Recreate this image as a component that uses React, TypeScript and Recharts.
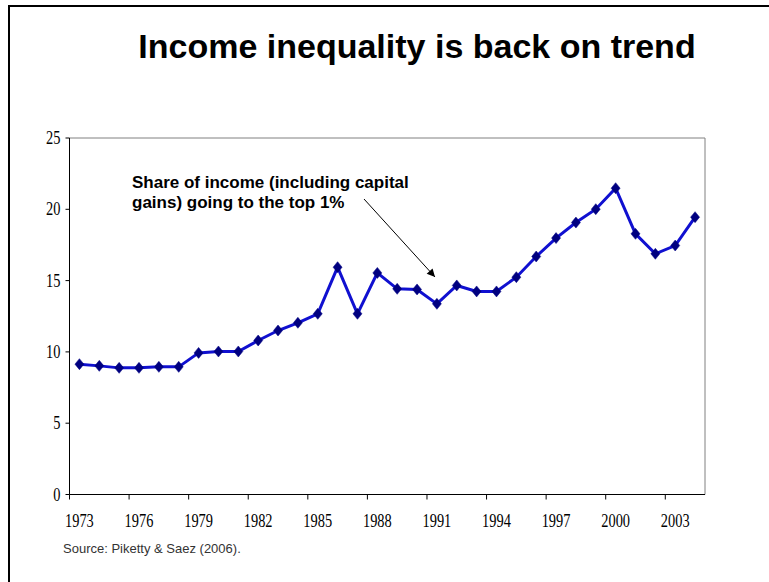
import React from 'react';
import { LineChart, Line, XAxis, YAxis, ReferenceLine } from 'recharts';

const years = [
  1973, 1974, 1975, 1976, 1977, 1978, 1979, 1980, 1981, 1982, 1983, 1984, 1985, 1986, 1987, 1988,
  1989, 1990, 1991, 1992, 1993, 1994, 1995, 1996, 1997, 1998, 1999, 2000, 2001, 2002, 2003, 2004,
];
const topShare = [
  9.14, 9.02, 8.88, 8.88, 8.95, 8.95, 9.93, 10.03, 10.03, 10.8, 11.5, 12.04, 12.67, 15.94, 12.67, 15.54,
  14.42, 14.38, 13.37, 14.66, 14.24, 14.24, 15.24, 16.69, 17.98, 19.07, 20.01, 21.48, 18.28, 16.88, 17.46, 19.45,
];
const yearLabels = [1973, 1976, 1979, 1982, 1985, 1988, 1991, 1994, 1997, 2000, 2003];
const yearBoundaries = [1972.5, 1975.5, 1978.5, 1981.5, 1984.5, 1987.5, 1990.5, 1993.5, 1996.5, 1999.5, 2002.5];
const yTicks = [0, 5, 10, 15, 20, 25];
const xDomain = [1972.5, 2004.5];
const yDomain = [0, 25];

const title = 'Income inequality is back on trend';
const noteLines = ['Share of income (including capital', 'gains) going to the top 1%'];
const source = 'Source: Piketty & Saez (2006).';

const data = years.map((y, i) => ({ year: y, share: topShare[i] }));

const SERIF = '"Liberation Serif", "Times New Roman", serif';
const SANS = '"Liberation Sans", Arial, sans-serif';

const XLabel = (props: any) => {
  const { x, y, payload } = props;
  return (
    <g transform={`translate(${x},${y})`}>
      <text transform="scale(0.8,1)" textAnchor="middle" dy={13} fontSize={18} fontFamily={SERIF} fill="#000">
        {payload.value}
      </text>
    </g>
  );
};

const EmptyTick = () => <g />;

const YLabel = (props: any) => {
  const { x, y, payload } = props;
  return (
    <g transform={`translate(${x},${y})`}>
      <text transform="scale(0.8,1)" textAnchor="end" dy={6} fontSize={18} fontFamily={SERIF} fill="#000">
        {payload.value}
      </text>
    </g>
  );
};

const Diamond = (props: any) => {
  const { cx, cy, index } = props;
  if (cx == null || cy == null) return null;
  return (
    <polygon
      key={`d-${index}`}
      points={`${cx},${cy - 5.5} ${cx + 4.5},${cy} ${cx},${cy + 5.5} ${cx - 4.5},${cy}`}
      fill="#000080"
      stroke="#000080"
      strokeWidth={0.5}
    />
  );
};

export default function App() {
  return (
    <div style={{ position: 'absolute', left: 0, top: 0, width: 769, height: 582, background: '#fff', overflow: 'hidden' }}>
      <div style={{ position: 'absolute', left: 0, top: 0 }}>
        <LineChart width={769} height={582} data={data} margin={{ top: 138, right: 64, bottom: 51.5, left: 9.5 }}>
          <XAxis
            xAxisId="a-marks"
            dataKey="year"
            type="number"
            domain={xDomain}
            ticks={yearBoundaries}
            interval={0}
            tick={<EmptyTick />}
            tickSize={5}
            tickMargin={0}
            height={6}
            axisLine={{ stroke: '#000', strokeWidth: 1 }}
            tickLine={{ stroke: '#000', strokeWidth: 1 }}
          />
          <XAxis
            xAxisId="b-labels"
            dataKey="year"
            type="number"
            domain={xDomain}
            ticks={yearLabels}
            interval={0}
            tick={<XLabel />}
            tickLine={false}
            axisLine={false}
            tickSize={0}
            tickMargin={13}
            height={30}
          />
          <YAxis
            type="number"
            domain={yDomain}
            ticks={yTicks}
            interval={0}
            width={60}
            tickSize={4}
            tickMargin={5}
            tick={<YLabel />}
            axisLine={{ stroke: '#000', strokeWidth: 1 }}
            tickLine={{ stroke: '#000', strokeWidth: 1 }}
          />
          <ReferenceLine xAxisId="a-marks" y={25} stroke="#808080" strokeWidth={1} />
          <ReferenceLine xAxisId="a-marks" x={2004.5} stroke="#808080" strokeWidth={1} />
          <Line
            xAxisId="a-marks"
            dataKey="share"
            stroke="#1010d0"
            strokeWidth={3}
            dot={<Diamond />}
            activeDot={false}
            isAnimationActive={false}
          />
        </LineChart>
      </div>
      <svg width={769} height={582} style={{ position: 'absolute', left: 0, top: 0, pointerEvents: 'none' }}>
        <defs>
          <marker id="arrowHead" viewBox="0 0 10 10" refX="10" refY="5" markerWidth="10" markerHeight="8" markerUnits="userSpaceOnUse" orient="auto">
            <path d="M0,0 L10,5 L0,10 z" fill="#000" />
          </marker>
        </defs>
        <line x1={9} y1={6} x2={769} y2={6} stroke="#000" strokeWidth={2} />
        <line x1={9} y1={5} x2={9} y2={582} stroke="#000" strokeWidth={2} />
        <text x={417} y={58} textAnchor="middle" fontSize={34} fontWeight="bold" fontFamily={SANS} fill="#000">
          {title}
        </text>
        {noteLines.map((t, i) => (
          <text key={i} x={132} y={188 + i * 20} fontSize={17} fontWeight="bold" fontFamily={SANS} fill="#000">
            {t}
          </text>
        ))}
        <line x1={364} y1={199} x2={435} y2={277} stroke="#000" strokeWidth={1} markerEnd="url(#arrowHead)" />
        <text x={63} y={553} fontSize={13} fontFamily={SANS} fill="#333">
          {source}
        </text>
      </svg>
    </div>
  );
}
